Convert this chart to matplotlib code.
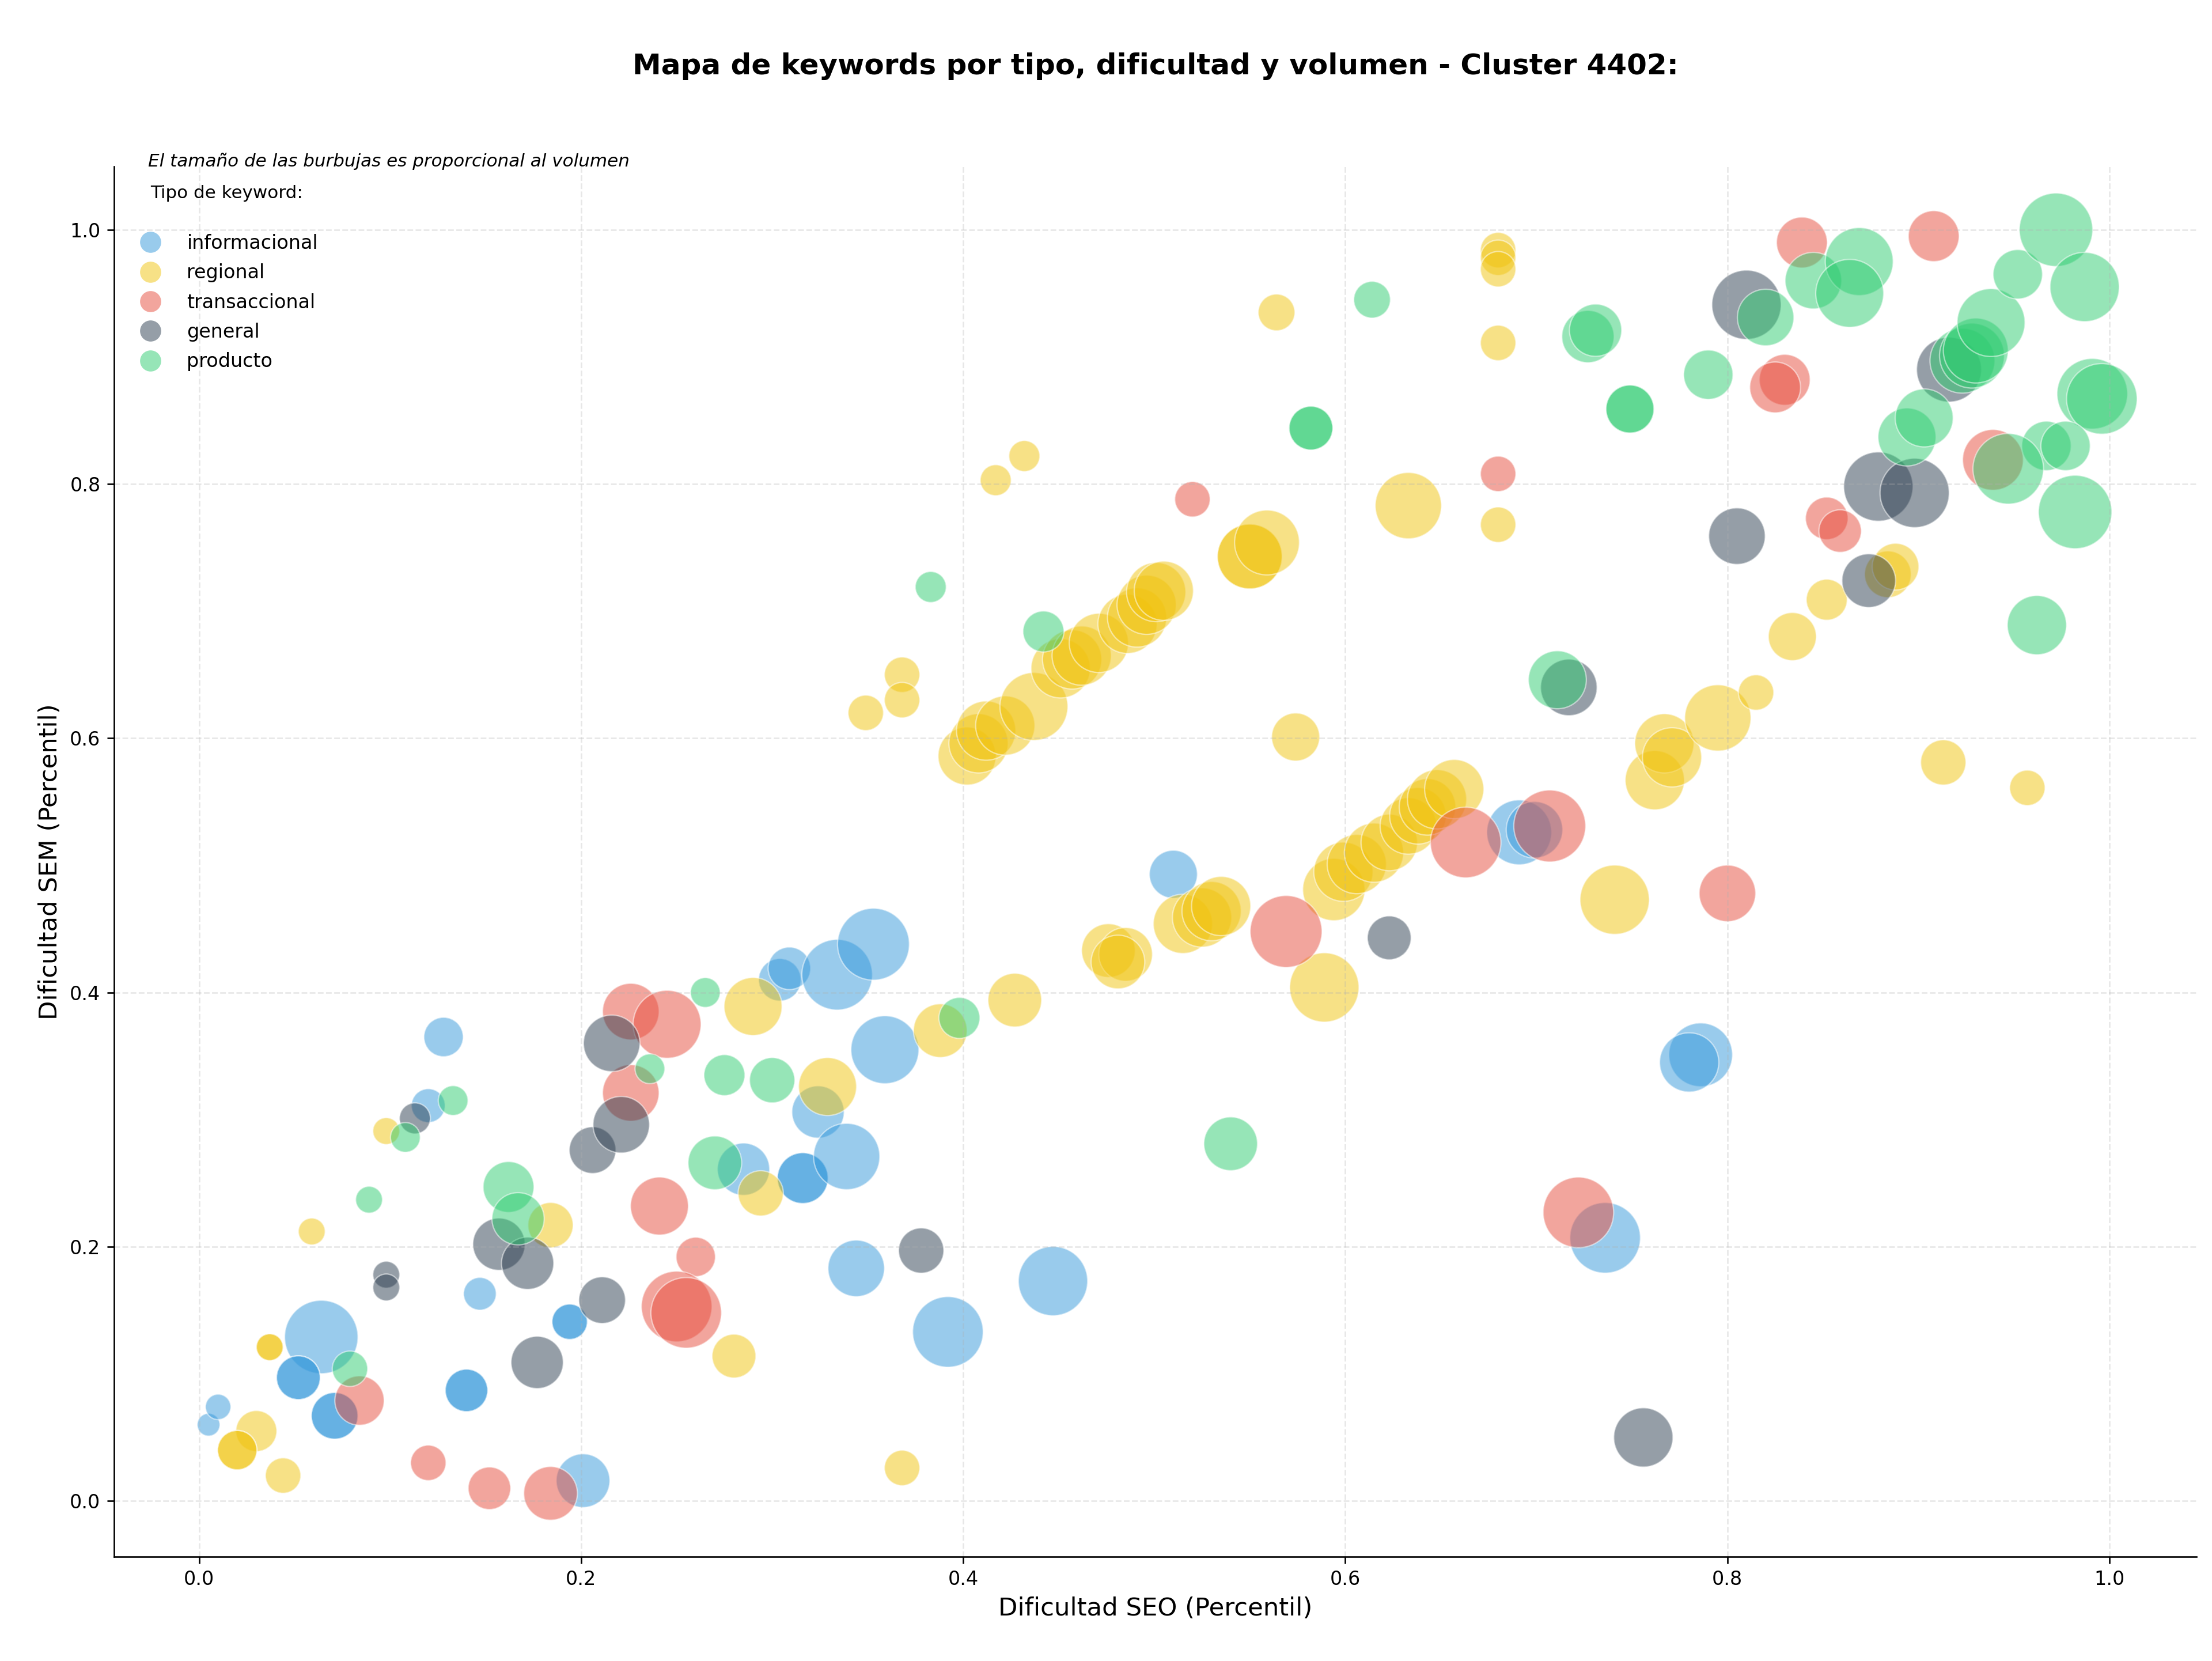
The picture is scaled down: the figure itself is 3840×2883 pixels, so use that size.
import matplotlib
matplotlib.use("Agg")
import matplotlib.pyplot as plt
from matplotlib.lines import Line2D

# ---------------------------
# datos (dificultad SEO, dificultad SEM, volumen)
# ---------------------------
tipos = ['informacional', 'regional', 'transaccional', 'general', 'producto']
colores = ['#3498db', '#f1c40f', '#e74c3c', '#2c3e50', '#2ecc71']

info_seo = [0.005, 0.010, 0.064, 0.052, 0.052, 0.071, 0.071, 0.128, 0.120, 0.147,
            0.140, 0.140, 0.194, 0.194, 0.201, 0.285, 0.316, 0.316, 0.324, 0.339,
            0.304, 0.309, 0.334, 0.353, 0.359, 0.344, 0.392, 0.447, 0.510, 0.691,
            0.699, 0.736, 0.786, 0.780]
info_sem = [0.060, 0.074, 0.129, 0.097, 0.097, 0.067, 0.067, 0.365, 0.311, 0.163,
            0.087, 0.087, 0.141, 0.141, 0.016, 0.261, 0.254, 0.254, 0.306, 0.271,
            0.410, 0.419, 0.414, 0.438, 0.355, 0.183, 0.133, 0.173, 0.493, 0.526,
            0.528, 0.207, 0.351, 0.345]
info_vol = [140, 175, 1460, 520, 520, 590, 590, 420, 310, 290,
            490, 490, 340, 340, 780, 740, 700, 700, 740, 1190,
            490, 490, 1350, 1400, 1250, 865, 1350, 1300, 625, 1140,
            865, 1350, 1100, 950]

reg_seo = [0.044, 0.030, 0.020, 0.020, 0.037, 0.037, 0.059, 0.098, 0.184, 0.280,
           0.294, 0.290, 0.329, 0.368, 0.388, 0.427, 0.476, 0.485, 0.481, 0.349,
           0.368, 0.368, 0.417, 0.432, 0.402, 0.408, 0.412, 0.422, 0.437, 0.451,
           0.457, 0.462, 0.471, 0.486, 0.491, 0.496, 0.501, 0.505, 0.550, 0.550,
           0.559, 0.564, 0.633, 0.680, 0.680, 0.680, 0.680, 0.680, 0.574, 0.515,
           0.525, 0.530, 0.535, 0.589, 0.594, 0.599, 0.606, 0.615, 0.623, 0.633,
           0.638, 0.643, 0.648, 0.657, 0.741, 0.762, 0.767, 0.771, 0.795, 0.815,
           0.834, 0.852, 0.884, 0.888, 0.913, 0.957]
reg_sem = [0.020, 0.055, 0.040, 0.040, 0.121, 0.121, 0.212, 0.291, 0.217, 0.114,
           0.242, 0.389, 0.326, 0.026, 0.370, 0.394, 0.433, 0.430, 0.424, 0.620,
           0.650, 0.630, 0.803, 0.822, 0.586, 0.596, 0.606, 0.610, 0.625, 0.655,
           0.662, 0.665, 0.675, 0.690, 0.695, 0.705, 0.715, 0.716, 0.743, 0.743,
           0.754, 0.935, 0.783, 0.984, 0.978, 0.969, 0.911, 0.768, 0.601, 0.454,
           0.459, 0.464, 0.468, 0.404, 0.481, 0.495, 0.501, 0.510, 0.518, 0.531,
           0.539, 0.546, 0.552, 0.560, 0.473, 0.567, 0.596, 0.585, 0.616, 0.636,
           0.680, 0.709, 0.729, 0.735, 0.581, 0.561]
reg_vol = [340, 455, 420, 420, 195, 195, 195, 195, 555, 520,
           555, 910, 910, 340, 780, 780, 780, 780, 780, 340,
           340, 340, 260, 260, 910, 950, 950, 950, 1250, 950,
           950, 950, 950, 950, 950, 950, 950, 950, 1140, 1140,
           1140, 365, 1190, 340, 340, 340, 340, 340, 625, 950,
           950, 950, 950, 1300, 1050, 950, 950, 950, 865, 865,
           865, 865, 950, 950, 1300, 950, 950, 950, 1190, 340,
           625, 455, 590, 590, 555, 340]

trans_seo = [0.084, 0.120, 0.152, 0.184, 0.226, 0.226, 0.245, 0.241, 0.260, 0.250,
             0.255, 0.520, 0.569, 0.663, 0.707, 0.680, 0.722, 0.800, 0.839, 0.908,
             0.830, 0.825, 0.852, 0.859, 0.939]
trans_sem = [0.079, 0.030, 0.010, 0.006, 0.385, 0.321, 0.375, 0.232, 0.192, 0.153,
             0.148, 0.788, 0.448, 0.518, 0.531, 0.808, 0.227, 0.478, 0.990, 0.995,
             0.882, 0.876, 0.773, 0.763, 0.819]
trans_vol = [660, 340, 490, 780, 865, 865, 1250, 910, 420, 1350,
             1350, 340, 1400, 1350, 1400, 340, 1350, 865, 700, 700,
             700, 700, 490, 490, 1000]

gen_seo = [0.113, 0.098, 0.098, 0.157, 0.172, 0.177, 0.206, 0.211, 0.216, 0.221,
           0.378, 0.623, 0.756, 0.717, 0.805, 0.810, 0.874, 0.879, 0.898, 0.916]
gen_sem = [0.301, 0.178, 0.168, 0.202, 0.187, 0.109, 0.276, 0.158, 0.360, 0.296,
           0.197, 0.443, 0.050, 0.640, 0.759, 0.941, 0.724, 0.798, 0.793, 0.890]
gen_vol = [260, 195, 195, 740, 740, 740, 590, 590, 865, 865,
           555, 520, 950, 865, 865, 1300, 780, 1300, 1300, 1140]

prod_seo = [0.079, 0.089, 0.108, 0.133, 0.162, 0.167, 0.236, 0.265, 0.275, 0.300,
            0.270, 0.398, 0.383, 0.442, 0.540, 0.582, 0.582, 0.614, 0.711, 0.727,
            0.731, 0.749, 0.749, 0.790, 0.820, 0.845, 0.869, 0.864, 0.894, 0.903,
            0.923, 0.928, 0.930, 0.938, 0.952, 0.972, 0.987, 0.991, 0.996, 0.967,
            0.977, 0.947, 0.982, 0.962]
prod_sem = [0.104, 0.237, 0.286, 0.315, 0.247, 0.222, 0.340, 0.400, 0.335, 0.331,
            0.266, 0.380, 0.719, 0.684, 0.281, 0.844, 0.844, 0.945, 0.646, 0.916,
            0.921, 0.859, 0.859, 0.886, 0.931, 0.960, 0.975, 0.950, 0.837, 0.852,
            0.897, 0.901, 0.905, 0.927, 0.965, 1.000, 0.955, 0.871, 0.867, 0.830,
            0.830, 0.812, 0.778, 0.689]
prod_vol = [340, 195, 240, 240, 700, 740, 240, 240, 455, 555,
            780, 455, 260, 455, 780, 520, 520, 365, 910, 740,
            740, 625, 625, 660, 865, 865, 1250, 1250, 910, 910,
            1140, 1140, 1140, 1250, 660, 1460, 1300, 1350, 1350, 660,
            660, 1350, 1460, 950]

series = [(info_seo, info_sem, info_vol),
          (reg_seo, reg_sem, reg_vol),
          (trans_seo, trans_sem, trans_vol),
          (gen_seo, gen_sem, gen_vol),
          (prod_seo, prod_sem, prod_vol)]

# ---------------------------
# grafico
# ---------------------------
fig = plt.figure(figsize=(16, 12.0125), dpi=240)
ax = fig.add_axes([0.0515, 0.0629, 0.9415, 0.8368])

for (seo, sem, vol), tipo, color in zip(series, tipos, colores):
    ax.scatter(seo, sem, s=vol, c=color, alpha=0.5, edgecolors='white',
               linewidths=0.7, label=tipo)

ax.set_xlabel('Dificultad SEO (Percentil)', fontsize=13)
ax.set_ylabel('Dificultad SEM (Percentil)', fontsize=13)
ax.set_title('Mapa de keywords por tipo, dificultad y volumen - Cluster 4402:',
             fontsize=15, fontweight='bold', pad=48)
ax.tick_params(labelsize=10)
ax.grid(True, linestyle='--', alpha=0.3)
ax.spines['top'].set_visible(False)
ax.spines['right'].set_visible(False)

ax.text(0.0165, 1.0, 'El tamaño de las burbujas es proporcional al volumen',
        transform=ax.transAxes, fontsize=9.3, style='italic', va='baseline')
ax.text(0.0174, 0.981, 'Tipo de keyword:', transform=ax.transAxes,
        fontsize=9.3, va='center')

handles = [Line2D([], [], linestyle='none', marker='o', markersize=11,
                  markerfacecolor=c, markeredgecolor='none', alpha=0.5)
           for c in colores]
ax.legend(handles, tipos, loc='upper left', bbox_to_anchor=(0.0, 0.964),
          frameon=False, fontsize=10, labelspacing=0.55,
          handlelength=2, handletextpad=0.9)

plt.savefig('out.png', dpi=240)
